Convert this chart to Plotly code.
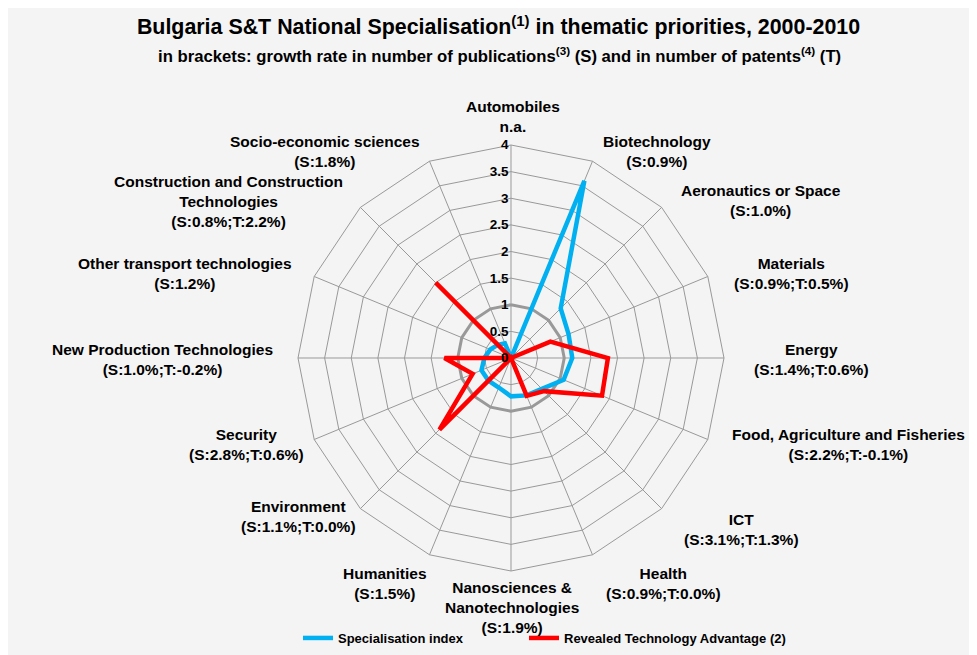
import plotly.graph_objects as go

categories = [
    "Automobiles<br>n.a.",
    "Biotechnology<br>(S:0.9%)",
    "Aeronautics or Space<br>(S:1.0%)",
    "Materials<br>(S:0.9%;T:0.5%)",
    "Energy<br>(S:1.4%;T:0.6%)",
    "Food, Agriculture and Fisheries<br>(S:2.2%;T:-0.1%)",
    "ICT<br>(S:3.1%;T:1.3%)",
    "Health<br>(S:0.9%;T:0.0%)",
    "Nanosciences &<br>Nanotechnologies<br>(S:1.9%)",
    "Humanities<br>(S:1.5%)",
    "Environment<br>(S:1.1%;T:0.0%)",
    "Security<br>(S:2.8%;T:0.6%)",
    "New Production Technologies<br>(S:1.0%;T:-0.2%)",
    "Other transport technologies<br>(S:1.2%)",
    "Construction and Construction<br>Technologies<br>(S:0.8%;T:2.2%)",
    "Socio-economic sciences<br>(S:1.8%)",
]
specialisation_index = [0.0, 3.6, 1.32, 1.17, 1.15, 1.07, 0.82, 0.76, 0.72, 0.6, 0.6, 0.6, 0.5, 0.42, 0.35, 0.3]
rta = [0.0, 0.0, 0.0, 0.8, 1.82, 1.85, 0.88, 0.77, 0.0, 0.0, 1.9, 0.78, 1.25, 0.0, 2.0, 0.0]
reference_level = [1.0] * len(categories)
radial_ticks = [0, 0.5, 1, 1.5, 2, 2.5, 3, 3.5, 4]

# label block centres (layout only, pixels from top-left of the figure)
label_pos = [
    (504.5, 108.5), (648.5, 143.5), (752.5, 192.5), (783, 265.5),
    (803.5, 351), (840, 436.5), (733.5, 521.5), (655.5, 575.5),
    (504, 599), (377, 575.5), (290.5, 508.5), (238.5, 436.5),
    (154.5, 351), (177, 265.5), (220.5, 193), (317, 143.5),
]

W, H = 977, 655
BG = "#f4f4f4"
FONT = "Liberation Sans, Arial, sans-serif"

def closed(v):
    return list(v) + [v[0]]

fig = go.Figure()
fig.add_trace(go.Scatterpolar(
    r=closed(reference_level), theta=closed(categories), mode="lines",
    line=dict(color="#999999", width=3), showlegend=False, hoverinfo="skip"))
fig.add_trace(go.Scatterpolar(
    r=closed(specialisation_index), theta=closed(categories), mode="lines",
    name="Specialisation index", line=dict(color="#00b0f0", width=4.5), legend="legend"))
fig.add_trace(go.Scatterpolar(
    r=closed(rta), theta=closed(categories), mode="lines",
    name="Revealed Technology Advantage (2)", line=dict(color="#ff0000", width=4.5), legend="legend2"))

annotations = [dict(
    text="in brackets: growth rate in number of publications<sup>(3)</sup> (S) and in number of patents<sup>(4)</sup> (T)",
    x=492 / W, y=1 - 47 / H, xref="paper", yref="paper", xanchor="center", yanchor="middle",
    showarrow=False, font=dict(family=FONT, size=16.7, color="black", weight="bold"),
)]
for label, (lx, ly) in zip(categories, label_pos):
    annotations.append(dict(
        text=label, x=lx / W, y=1 - ly / H, xref="paper", yref="paper",
        xanchor="center", yanchor="middle", align="center", showarrow=False,
        font=dict(family=FONT, size=15.5, color="black", weight="bold"),
    ))

cx, cy, R = 503, 350, 213
legend_common = dict(orientation="h", xanchor="left", y=1 - 630 / H, yanchor="middle",
                     bgcolor="rgba(0,0,0,0)",
                     font=dict(family=FONT, size=13, color="black", weight="bold"))
fig.update_layout(
    width=W, height=H,
    margin=dict(l=0, r=0, t=0, b=0),
    paper_bgcolor=BG,
    font=dict(family=FONT, color="black"),
    polar=dict(
        domain=dict(x=[(cx - R) / W, (cx + R) / W], y=[1 - (cy + R) / H, 1 - (cy - R) / H]),
        bgcolor=BG,
        gridshape="linear",
        radialaxis=dict(
            range=[0, 4], tickvals=radial_ticks, ticktext=[str(t) for t in radial_ticks],
            angle=90, tickangle=90, side="counterclockwise",
            showline=False, gridcolor="#999999", gridwidth=1, ticks="",
            tickfont=dict(family=FONT, size=13.5, color="black", weight="bold"),
        ),
        angularaxis=dict(
            rotation=90, direction="clockwise",
            showline=True, linecolor="#999999", linewidth=1,
            gridcolor="#999999", gridwidth=1,
            showticklabels=False, ticks="",
        ),
    ),
    title=dict(
        text="Bulgaria S&T National Specialisation<sup>(1)</sup> in thematic priorities, 2000-2010",
        x=490.5 / W, xanchor="center", y=1 - 19 / H, yanchor="middle", yref="container",
        font=dict(family=FONT, size=21.4, color="black", weight="bold"),
    ),
    annotations=annotations,
    legend=dict(x=290 / W, **legend_common),
    legend2=dict(x=516 / W, **legend_common),
)

fig.write_html("out.html")
